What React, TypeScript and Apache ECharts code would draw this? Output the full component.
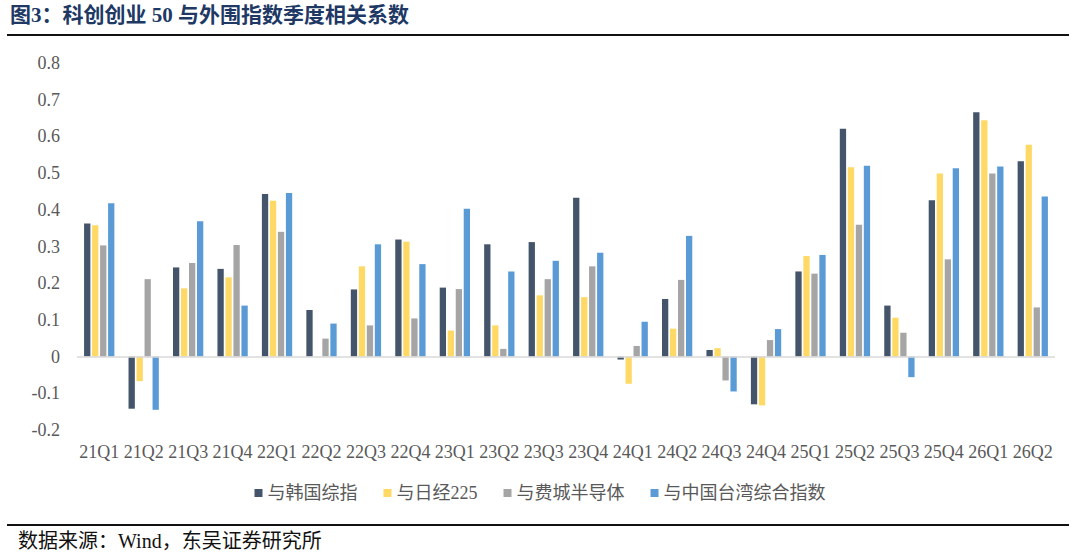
import React, { useEffect, useRef } from "react";
import * as echarts from "echarts";

// Quarter labels
const quarters = [
  "21Q1", "21Q2", "21Q3", "21Q4", "22Q1", "22Q2", "22Q3", "22Q4",
  "23Q1", "23Q2", "23Q3", "23Q4", "24Q1", "24Q2", "24Q3", "24Q4",
  "25Q1", "25Q2", "25Q3", "25Q4", "26Q1", "26Q2",
];

const seriesNames = ["与韩国综指", "与日经225", "与费城半导体", "与中国台湾综合指数"];
const seriesColors = ["#44546A", "#FFD966", "#A5A5A5", "#5B9BD5"];

// Quarterly correlation coefficients
const korea = [
  0.363, -0.142, 0.243, 0.239, 0.443, 0.127, 0.183, 0.319, 0.188, 0.306, 0.312,
  0.433, -0.008, 0.157, 0.018, -0.13, 0.232, 0.621, 0.139, 0.426, 0.666, 0.532,
];
const nikkei = [
  0.358, -0.067, 0.186, 0.216, 0.425, 0.0, 0.246, 0.313, 0.071, 0.085, 0.167,
  0.162, -0.074, 0.076, 0.023, -0.133, 0.274, 0.516, 0.106, 0.499, 0.644, 0.577,
];
const sox = [
  0.303, 0.211, 0.255, 0.304, 0.34, 0.049, 0.085, 0.104, 0.184, 0.021, 0.211,
  0.246, 0.029, 0.209, -0.065, 0.045, 0.226, 0.359, 0.065, 0.265, 0.499, 0.134,
];
const taiwan = [
  0.418, -0.145, 0.369, 0.139, 0.446, 0.09, 0.306, 0.252, 0.403, 0.232, 0.261,
  0.283, 0.095, 0.329, -0.095, 0.075, 0.277, 0.52, -0.056, 0.513, 0.518, 0.436,
];

const allData = [korea, nikkei, sox, taiwan];

const SERIF = "'Liberation Serif', 'Times New Roman', 'Noto Sans CJK SC', serif";

export default function App() {
  const ref = useRef<HTMLDivElement>(null);

  useEffect(() => {
    if (!ref.current) return;
    const chart = echarts.init(ref.current, undefined, { renderer: "svg" });

    const series: any[] = allData.map((d, i) => ({
      name: seriesNames[i],
      type: "bar",
      data: d,
      barWidth: 6.3,
      barGap: "27%",
      itemStyle: { color: seriesColors[i] },
      ...(i === 0
        ? {
            markLine: {
              silent: true,
              symbol: "none",
              label: { show: false },
              lineStyle: { color: "#D9D9D9", width: 1.5, type: "solid" },
              data: [{ yAxis: 0 }],
            },
          }
        : {}),
    }));

    chart.setOption({
      animation: false,
      backgroundColor: "#ffffff",
      grid: { left: 77, right: 25, top: 63, bottom: 127, containLabel: false },
      legend: {
        data: seriesNames,
        top: 479,
        left: "center",
        icon: "rect",
        itemWidth: 8,
        itemHeight: 8,
        itemGap: 26,
        textStyle: {
          fontSize: 18,
          color: "#595959",
          fontFamily: SERIF,
        },
      },
      xAxis: {
        type: "category",
        data: quarters,
        axisLine: { show: false, onZero: false },
        axisTick: { show: false },
        axisLabel: {
          interval: 0,
          margin: 13,
          fontSize: 18,
          color: "#595959",
          fontFamily: SERIF,
        },
      },
      yAxis: {
        type: "value",
        min: -0.2,
        max: 0.8,
        interval: 0.1,
        splitLine: { show: false },
        axisLine: { show: false },
        axisTick: { show: false },
        axisLabel: {
          margin: 17,
          fontSize: 18,
          color: "#595959",
          fontFamily: SERIF,
          formatter: (v: number) => String(Number(v.toFixed(1))),
        },
      },
      graphic: [
        {
          type: "text",
          left: 10,
          top: 4,
          style: {
            text: "图3：科创创业 50 与外围指数季度相关系数",
            fontSize: 21,
            fontWeight: "bold",
            fill: "#203864",
            fontFamily: SERIF,
          },
        },
        {
          type: "line",
          shape: { x1: 7, y1: 35, x2: 1069, y2: 35 },
          style: { stroke: "#111111", lineWidth: 2 },
        },
        {
          type: "line",
          shape: { x1: 7, y1: 525, x2: 1069, y2: 525 },
          style: { stroke: "#111111", lineWidth: 2 },
        },
        {
          type: "text",
          left: 18,
          top: 531,
          style: {
            text: "数据来源：Wind，东吴证券研究所",
            fontSize: 20,
            fill: "#111111",
            fontFamily: SERIF,
          },
        },
      ],
      series,
    });

    return () => chart.dispose();
  }, []);

  return (
    <div
      ref={ref}
      style={{ position: "fixed", left: 0, top: 0, width: 1080, height: 557 }}
    />
  );
}
